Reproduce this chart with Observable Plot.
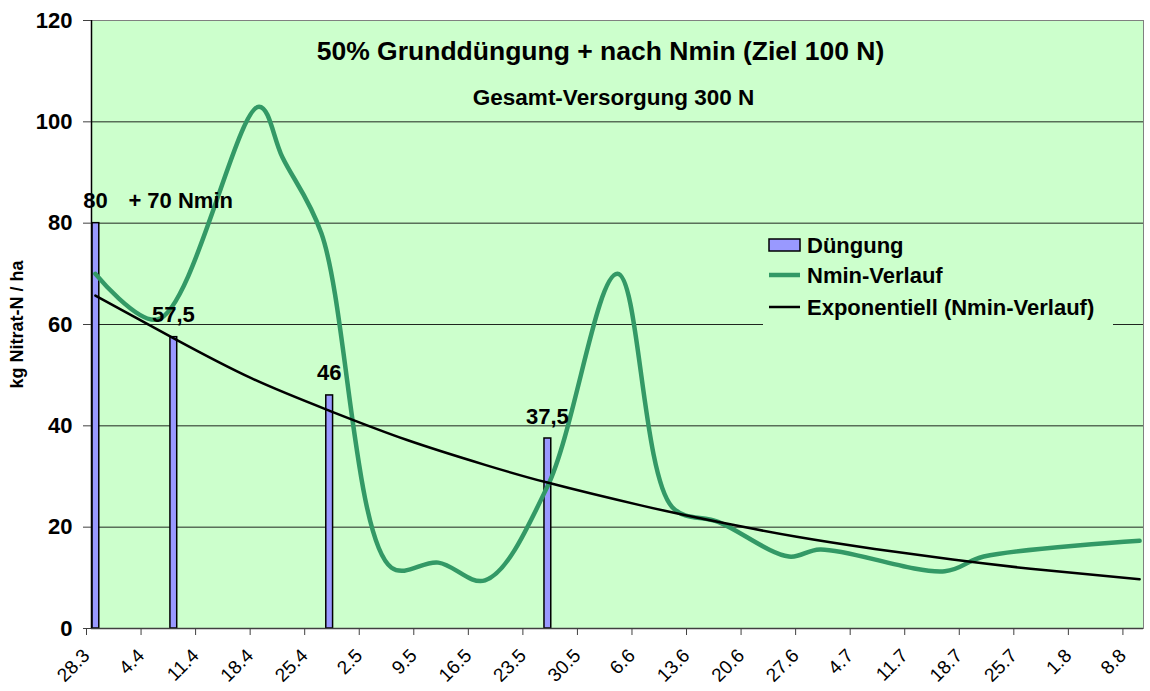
<!DOCTYPE html>
<html><head><meta charset="utf-8">
<script src="https://cdn.jsdelivr.net/npm/d3@7"></script>
<script src="https://cdn.jsdelivr.net/npm/@observablehq/plot@0.6"></script>
<style>
body{margin:0;background:#fff;font-family:"Liberation Sans",Arial,sans-serif;}
#wrap{position:relative;width:1150px;height:691px;}
#legend{position:absolute;left:763px;top:228px;width:350px;height:97px;background:#ccffcc;}
#legend text{font-family:"Liberation Sans",Arial,sans-serif;font-weight:bold;font-size:22px;fill:#000;}
</style></head><body><div id="wrap"></div>
<script>
// ---- data ----
const year = 2008;
const titleText = "50% Grunddüngung + nach Nmin (Ziel 100 N)";
const subtitleText = "Gesamt-Versorgung 300 N";
const yLabel = "kg Nitrat-N / ha";
const tickLabels = ["28.3","4.4","11.4","18.4","25.4","2.5","9.5","16.5","23.5","30.5","6.6","13.6","20.6","27.6","4.7","11.7","18.7","25.7","1.8","8.8"];
const axisEnd = "10.8";
const yTicks = [0, 20, 40, 60, 80, 100, 120];

const barDates = ["28.3", "7.4", "27.4", "25.5"];
const barValues = [80, 57.5, 46, 37.5];
const barLabels = ["80", "57,5", "46", "37,5"];

const noteDates = ["28.3"];
const noteValues = [80];
const noteTexts = ["+ 70 Nmin"];

const nminDates = ["28.3","5.4","18.4","21.4","26.4","5.5","11.5","17.5","25.5","3.6","10.6","16.6","25.6","29.6","15.7","20.7","9.8"];
const nminValues = [70, 61, 103, 93, 78, 12, 13, 9.5, 28, 70, 24, 21, 14.2, 15.6, 11.3, 14.2, 17.3];

const trendDates = ["28.3","7.4","17.4","27.4","7.5","17.5","25.5","6.6","16.6","26.6","6.7","16.7","26.7","9.8"];
const trendValues = [65.7, 57.3, 49.4, 43, 37.2, 32.3, 28.8, 24.3, 21.0, 18.1, 15.7, 13.6, 11.8, 9.7];

// ---- helpers ----
const parse = s => { const [d, m] = s.split(".").map(Number); return new Date(Date.UTC(year, m - 1, d)); };
const mid = d => new Date(d.getTime() + 12 * 3600e3); // category centre of the day
const bars = barDates.map((d, i) => ({date: parse(d), value: barValues[i], label: barLabels[i]}));
const notes = noteDates.map((d, i) => ({date: parse(d), value: noteValues[i], text: noteTexts[i]}));
const nmin = nminDates.map((d, i) => ({date: parse(d), value: nminValues[i]}));
const trend = trendDates.map((d, i) => ({date: parse(d), value: trendValues[i]}));
const tickDates = tickLabels.map(parse);
const labelOf = new Map(tickDates.map((d, i) => [+d, tickLabels[i]]));

const font = "'Liberation Sans', Arial, sans-serif";

const chart = Plot.plot({
  width: 1150, height: 691,
  marginLeft: 91, marginRight: 7, marginTop: 20, marginBottom: 63,
  style: {fontFamily: font, background: "transparent", overflow: "visible"},
  x: {type: "utc", domain: [tickDates[0], parse(axisEnd)]},
  y: {domain: [0, 120]},
  marks: [
    Plot.frame({fill: "#ccffcc", stroke: "#808080"}),
    Plot.gridY(yTicks.slice(1, -1), {stroke: "#000", strokeOpacity: 0.85, strokeWidth: 1}),
    Plot.rectY(bars, {x: "date", y: "value", interval: d3.utcDay, fill: "#9999ff", stroke: "#000", strokeWidth: 1.5}),
    Plot.line(nmin, {x: d => mid(d.date), y: "value", curve: "catmull-rom", stroke: "#339966", strokeWidth: 4.5}),
    Plot.line(trend, {x: d => mid(d.date), y: "value", curve: "natural", stroke: "#000", strokeWidth: 2.5}),
    Plot.ruleY([0], {stroke: "#404040", strokeWidth: 1.5}),
    Plot.ruleX([tickDates[0]], {stroke: "#000", strokeWidth: 1.5}),
    Plot.text(bars, {x: d => mid(d.date), y: "value", text: "label", dy: -15, lineAnchor: "bottom", fontSize: 22, fontWeight: "bold", fill: "#000"}),
    Plot.text(notes, {x: d => mid(d.date), y: "value", text: "text", dx: 33, dy: -15, textAnchor: "start", lineAnchor: "bottom", fontSize: 22, fontWeight: "bold", fill: "#000"}),
    Plot.text([titleText], {text: d => d, frameAnchor: "top", dx: -17, dy: 39, lineAnchor: "bottom", fontSize: 26.5, fontWeight: "bold", fill: "#000"}),
    Plot.text([subtitleText], {text: d => d, frameAnchor: "top", dx: -4, dy: 84, lineAnchor: "bottom", fontSize: 22.5, fontWeight: "bold", fill: "#000"}),
    Plot.text([yLabel], {text: d => d, frameAnchor: "left", textAnchor: "middle", rotate: -90, dx: -74, fontSize: 18, fontWeight: "bold", fill: "#000"}),
    Plot.axisY({ticks: yTicks, tickSize: 8, tickPadding: 11, fontSize: 22, fontWeight: "bold", label: null, stroke: "#404040"}),
    Plot.axisX({ticks: tickDates, tickFormat: d => labelOf.get(+d), tickRotate: -45, tickSize: 7, tickPadding: 17, dx: -5, fontSize: 19, label: null, stroke: "#404040"})
  ]
});

const wrap = document.getElementById("wrap");
wrap.appendChild(chart);

// legend (drawn over the plot area like the original)
const legend = document.createElement("div");
legend.id = "legend";
legend.innerHTML = `<svg width="350" height="97">
  <rect x="6" y="11" width="31" height="12" fill="#9999ff" stroke="#000" stroke-width="1.5"></rect>
  <text x="44" y="25">Düngung</text>
  <line x1="6" x2="37" y1="47" y2="47" stroke="#339966" stroke-width="4.5"></line>
  <text x="44" y="55">Nmin-Verlauf</text>
  <line x1="6" x2="37" y1="79" y2="79" stroke="#000" stroke-width="2.5"></line>
  <text x="44" y="87">Exponentiell (Nmin-Verlauf)</text>
</svg>`;
wrap.appendChild(legend);
</script>
</body></html>
